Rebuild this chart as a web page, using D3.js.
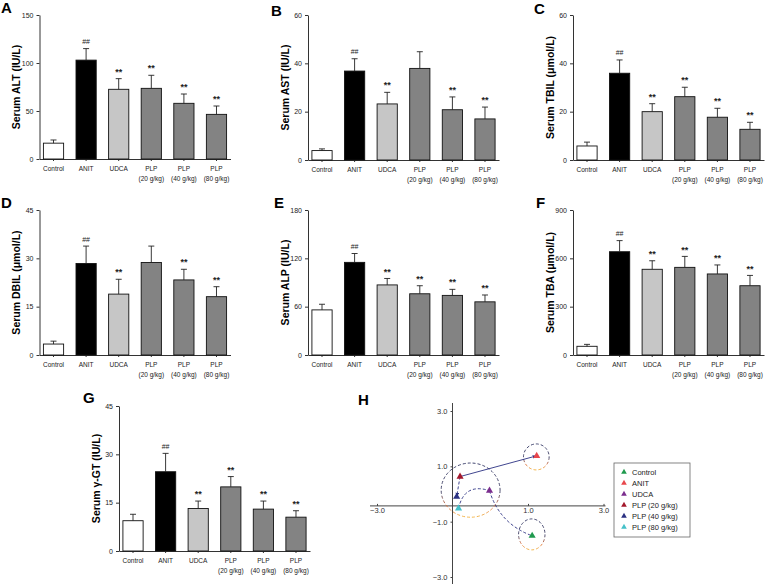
<!DOCTYPE html>
<html>
<head>
<meta charset="utf-8">
<script src="https://cdn.jsdelivr.net/npm/d3@7"></script>
<style>
  body { margin: 0; background: #fff; }
  svg { font-family: "Liberation Sans", Arial, sans-serif; }
</style>
</head>
<body>
<svg id="fig" width="768" height="584"></svg>
<script>
// data
GROUPS = ["Control", "ANIT", "UDCA", "PLP (20 g/kg)", "PLP (40 g/kg)", "PLP (80 g/kg)"]
GROUP_LINES = [["Control"], ["ANIT"], ["UDCA"], ["PLP", "(20 g/kg)"], ["PLP", "(40 g/kg)"], ["PLP", "(80 g/kg)"]]

ALT_MEAN = [16.5, 103, 72.6, 73.6, 58, 46.5]
ALT_SD = [3.3, 12, 11.1, 13.6, 9.7, 8.7]
AST_MEAN = [3.9, 36.8, 23.2, 37.9, 20.8, 17]
AST_SD = [0.7, 5.1, 4.8, 6.9, 5.3, 4.9]
TBIL_MEAN = [5.8, 35.9, 20, 26.2, 17.7, 12.7]
TBIL_SD = [1.6, 5.5, 3.3, 3.9, 3.7, 2.9]
DBIL_MEAN = [3.4, 28.4, 18.9, 28.7, 23.3, 18.1]
DBIL_SD = [0.9, 5.4, 4.6, 5.1, 3.3, 3.1]
ALP_MEAN = [56, 115, 87, 76, 74, 66]
ALP_SD = [7, 11, 8, 10, 7.5, 8.5]
TBA_MEAN = [54, 641, 532, 544, 503, 430]
TBA_SD = [12, 69, 53, 68, 56, 64]
GGT_MEAN = [9.4, 24.6, 13.2, 19.9, 13, 10.5]
GGT_SD = [2, 5.7, 2.3, 3.2, 2.5, 2]

SIG_ALL = ["", "##", "**", "**", "**", "**"]
SIG_NO20 = ["", "##", "**", "", "**", "**"]

TICKS_ALT = [0, 50, 100, 150]
TICKS_AST = [0, 20, 40, 60]
TICKS_TBIL = [0, 20, 40, 60]
TICKS_DBIL = [0, 15, 30, 45]
TICKS_ALP = [0, 60, 120, 180]
TICKS_TBA = [0, 300, 600, 900]
TICKS_GGT = [0, 15, 30, 45]

// score plot (panel H)
SCORE_X = [1.11, 1.23, -0.02, -0.80, -0.89, -0.84]
SCORE_Y = [-1.51, 1.38, 0.12, 0.63, -0.10, -0.52]
SCORE_COLORS = ["#1f9a4e", "#e8474c", "#7b2d8e", "#a3182c", "#2b3182", "#45c1c9"]
H_TICKS_X = [-3, 1, 3]
H_TICKS_Y = [-3, -1, 1, 3]
CLUSTERS = [
  {cx: 1.22, cy: 1.34, rx: 0.34, ry: 0.47},
  {cx: 1.10, cy: -1.46, rx: 0.35, ry: 0.56},
  {cx: -0.52, cy: 0.14, rx: 0.78, ry: 0.98}
]
// [from, to, dashed, bend, arrow]
LINKS = [
  [3, 1, false, 0, true],
  [3, 4, true, 0, true],
  [5, 2, true, 0.55, false],
  [2, 0, true, -0.25, false]
]

BAR_FILLS = ["#ffffff", "#000000", "#c6c6c6", "#838383", "#838383", "#838383"]

var panels = [
  {letter: "A", lx: 1, ly: 13, ax: 39.5, top: 15, bottom: 159, mean: ALT_MEAN, sd: ALT_SD, ticks: TICKS_ALT, sig: SIG_ALL, label: "Serum ALT (IU/L)"},
  {letter: "B", lx: 271, ly: 16, ax: 308, top: 15, bottom: 160, mean: AST_MEAN, sd: AST_SD, ticks: TICKS_AST, sig: SIG_NO20, label: "Serum AST (IU/L)"},
  {letter: "C", lx: 534, ly: 14, ax: 573, top: 15, bottom: 160, mean: TBIL_MEAN, sd: TBIL_SD, ticks: TICKS_TBIL, sig: SIG_ALL, label: "Serum TBIL (\u03bcmol/L)"},
  {letter: "D", lx: 1, ly: 208, ax: 39.5, top: 210, bottom: 355, mean: DBIL_MEAN, sd: DBIL_SD, ticks: TICKS_DBIL, sig: SIG_NO20, label: "Serum DBIL (\u03bcmol/L)"},
  {letter: "E", lx: 274, ly: 208, ax: 308, top: 210, bottom: 355, mean: ALP_MEAN, sd: ALP_SD, ticks: TICKS_ALP, sig: SIG_ALL, label: "Serum ALP (IU/L)"},
  {letter: "F", lx: 536, ly: 208, ax: 573, top: 210, bottom: 355, mean: TBA_MEAN, sd: TBA_SD, ticks: TICKS_TBA, sig: SIG_ALL, label: "Serum TBA (\u03bcmol/L)"},
  {letter: "G", lx: 83, ly: 403, ax: 119, top: 406, bottom: 551, mean: GGT_MEAN, sd: GGT_SD, ticks: TICKS_GGT, sig: SIG_ALL, label: "Serum \u03b3-GT (IU/L)"}
]

var svg = d3.select("#fig")

panels.forEach(function(p){ draw_bar_panel(svg, p) })
draw_score_panel(svg)

function draw_bar_panel(svg, p){
  var g = svg.append("g")
  var x = d3.scaleBand()
    .domain(GROUPS)
    .range([p.ax, p.ax + 191])
    .paddingInner(0.38)
    .paddingOuter(0.12)
  var y = d3.scaleLinear()
    .domain([0, p.ticks[p.ticks.length - 1]])
    .range([p.bottom, p.top])

  g.append("text")
    .attr("x", p.lx)
    .attr("y", p.ly)
    .attr("font-size", 15)
    .attr("font-weight", "bold")
    .text(p.letter)

  g.append("text")
    .attr("transform", "translate(" + (p.ax - 23) + "," + ((p.top + p.bottom) / 2) + ") rotate(-90)")
    .attr("text-anchor", "middle")
    .attr("dy", "0.35em")
    .attr("font-size", 10.5)
    .attr("font-weight", "bold")
    .text(p.label)

  var yAxis = g.append("g")
    .attr("transform", "translate(" + p.ax + ",0)")
    .call(d3.axisLeft(y).tickValues(p.ticks).tickSize(3).tickSizeOuter(0))
  yAxis.selectAll("text").attr("font-size", 7).attr("fill", "#222").attr("font-family", "Liberation Sans, Arial, sans-serif")
  yAxis.selectAll("line, path").attr("stroke", "#333")

  var xAxis = g.append("g")
    .attr("transform", "translate(0," + p.bottom + ")")
    .call(d3.axisBottom(x).tickSize(2).tickSizeOuter(0).tickFormat(""))
  xAxis.selectAll("line, path").attr("stroke", "#333")

  // bars
  g.selectAll(".bar")
    .data(GROUPS)
    .enter()
    .append("rect")
      .attr("x", function(d){ return x(d) })
      .attr("y", function(d, i){ return y(p.mean[i]) })
      .attr("width", x.bandwidth())
      .attr("height", function(d, i){ return y(0) - y(p.mean[i]) })
      .attr("fill", function(d, i){ return BAR_FILLS[i] })
      .attr("stroke", "#111")
      .attr("stroke-width", 0.9)

  // error bars, up only
  var cx = function(d){ return x(d) + x.bandwidth() / 2 }
  g.selectAll(".err")
    .data(GROUPS)
    .enter()
    .append("line")
      .attr("x1", cx).attr("x2", cx)
      .attr("y1", function(d, i){ return y(p.mean[i]) })
      .attr("y2", function(d, i){ return y(p.mean[i] + p.sd[i]) })
      .attr("stroke", "#222")
      .attr("stroke-width", 0.9)
  g.selectAll(".cap")
    .data(GROUPS)
    .enter()
    .append("line")
      .attr("x1", function(d){ return cx(d) - 3 })
      .attr("x2", function(d){ return cx(d) + 3 })
      .attr("y1", function(d, i){ return y(p.mean[i] + p.sd[i]) })
      .attr("y2", function(d, i){ return y(p.mean[i] + p.sd[i]) })
      .attr("stroke", "#222")
      .attr("stroke-width", 0.9)

  // significance marks
  g.selectAll(".sig")
    .data(GROUPS)
    .enter()
    .append("text")
      .attr("x", cx)
      .attr("y", function(d, i){ return y(p.mean[i] + p.sd[i]) - 7 })
      .attr("dy", "0.35em")
      .attr("text-anchor", "middle")
      .attr("font-size", function(d, i){ return p.sig[i] == "##" ? 7 : 9 })
      .attr("font-weight", function(d, i){ return p.sig[i] == "##" ? "normal" : "bold" })
      .attr("fill", "#222")
      .text(function(d, i){ return p.sig[i] })

  // category labels
  var lab = g.selectAll(".cat")
    .data(GROUPS)
    .enter()
    .append("text")
      .attr("text-anchor", "middle")
      .attr("font-size", 6.5)
      .attr("fill", "#222")
  lab.selectAll("tspan")
    .data(function(d, i){ return GROUP_LINES[i].map(function(t){ return {t: t, d: d} }) })
    .enter()
    .append("tspan")
      .attr("x", function(o){ return cx(o.d) })
      .attr("y", function(o, j){ return p.bottom + 11.5 + j * 10 })
      .text(function(o){ return o.t })
}

function draw_score_panel(svg){
  var g = svg.append("g")
  var x = d3.scaleLinear().domain([-3, 3]).range([377, 603.5])
  var y = d3.scaleLinear().domain([-3, 3]).range([577, 411])
  var originX = -1, originY = -0.43

  g.append("text")
    .attr("x", 358).attr("y", 405)
    .attr("font-size", 15).attr("font-weight", "bold")
    .text("H")

  var defs = g.append("defs")
  var grad = defs.append("linearGradient")
    .attr("id", "ringGrad")
    .attr("x1", 0).attr("y1", 0).attr("x2", 0).attr("y2", 1)
  grad.append("stop").attr("offset", "0").attr("stop-color", "#2f3462")
  grad.append("stop").attr("offset", "0.55").attr("stop-color", "#3a3a5e")
  grad.append("stop").attr("offset", "0.8").attr("stop-color", "#e0703a")
  grad.append("stop").attr("offset", "1").attr("stop-color", "#f2b23c")

  defs.append("marker")
    .attr("id", "arrow")
    .attr("viewBox", "0 0 10 10")
    .attr("refX", 9).attr("refY", 5)
    .attr("markerWidth", 5).attr("markerHeight", 5)
    .attr("orient", "auto")
  .append("path")
    .attr("d", "M0,1 L10,5 L0,9 z")
    .attr("fill", "#2b3182")

  // axes
  var xAxis = g.append("g")
    .attr("transform", "translate(0," + y(originY) + ")")
    .call(d3.axisBottom(x).tickValues(H_TICKS_X).tickSize(-2).tickSizeOuter(0).tickFormat(d3.format(".1f")))
  xAxis.select(".domain").attr("d", "M" + (x(-3) - 7) + ",0H" + (x(3) + 2))
  xAxis.selectAll("text").attr("font-size", 7.5).attr("fill", "#333").attr("dy", "0.5em")
    .attr("font-family", "Liberation Sans, Arial, sans-serif")
    .text(function(d){ return d3.format(".1f")(d).replace("-", "\u2212") })
  xAxis.selectAll("line, path").attr("stroke", "#444")

  var yAxis = g.append("g")
    .attr("transform", "translate(" + x(originX) + ",0)")
    .call(d3.axisLeft(y).tickValues(H_TICKS_Y).tickSize(2).tickSizeOuter(0).tickFormat(d3.format(".1f")))
  yAxis.select(".domain").attr("d", "M0," + (y(3) - 8) + "V" + 584)
  yAxis.selectAll("text").attr("font-size", 7.5).attr("fill", "#333")
    .attr("font-family", "Liberation Sans, Arial, sans-serif")
    .text(function(d){ return d3.format(".1f")(d).replace("-", "\u2212") })
  yAxis.selectAll("line, path").attr("stroke", "#444")

  // cluster rings
  g.selectAll(".ring")
    .data(CLUSTERS)
    .enter()
    .append("ellipse")
      .attr("cx", function(d){ return x(d.cx) })
      .attr("cy", function(d){ return y(d.cy) })
      .attr("rx", function(d){ return x(d.rx) - x(0) })
      .attr("ry", function(d){ return y(0) - y(d.ry) })
      .attr("fill", "none")
      .attr("stroke", "url(#ringGrad)")
      .attr("stroke-width", 0.9)
      .attr("stroke-dasharray", "3,2")

  // links between group centroids
  g.selectAll(".link")
    .data(LINKS)
    .enter()
    .append("path")
      .attr("d", function(l){
        var x0 = x(SCORE_X[l[0]]), y0 = y(SCORE_Y[l[0]])
        var x1 = x(SCORE_X[l[1]]), y1 = y(SCORE_Y[l[1]])
        var mx = (x0 + x1) / 2, my = (y0 + y1) / 2
        var dx = x1 - x0, dy = y1 - y0
        var qx = mx + dy * l[3], qy = my - dx * l[3]
        return "M" + x0 + "," + y0 + "Q" + qx + "," + qy + " " + x1 + "," + y1
      })
      .attr("fill", "none")
      .attr("stroke", "#2b3182")
      .attr("stroke-width", 0.9)
      .attr("stroke-dasharray", function(l){ return l[2] ? "3,2" : null })
      .attr("marker-end", function(l){ return l[4] ? "url(#arrow)" : null })

  // group centroids
  var tri = d3.symbol().type(d3.symbolTriangle).size(22)
  g.selectAll(".pt")
    .data(GROUPS)
    .enter()
    .append("path")
      .attr("d", tri)
      .attr("transform", function(d, i){ return "translate(" + x(SCORE_X[i]) + "," + y(SCORE_Y[i]) + ")" })
      .attr("fill", function(d, i){ return SCORE_COLORS[i] })

  // legend
  var lg = g.append("g").attr("transform", "translate(614,463)")
  lg.append("rect")
    .attr("width", 76).attr("height", 74)
    .attr("fill", "#fff").attr("stroke", "#666").attr("stroke-width", 0.8)
  var item = lg.selectAll(".item")
    .data(GROUPS)
    .enter()
    .append("g")
      .attr("transform", function(d, i){ return "translate(10," + (9 + i * 11) + ")" })
  item.append("path")
    .attr("d", d3.symbol().type(d3.symbolTriangle).size(14))
    .attr("fill", function(d, i){ return SCORE_COLORS[i] })
  item.append("text")
    .attr("x", 8).attr("dy", "0.35em")
    .attr("font-size", 7.5).attr("fill", "#222")
    .text(function(d){ return d })
}
</script>
</body>
</html>
